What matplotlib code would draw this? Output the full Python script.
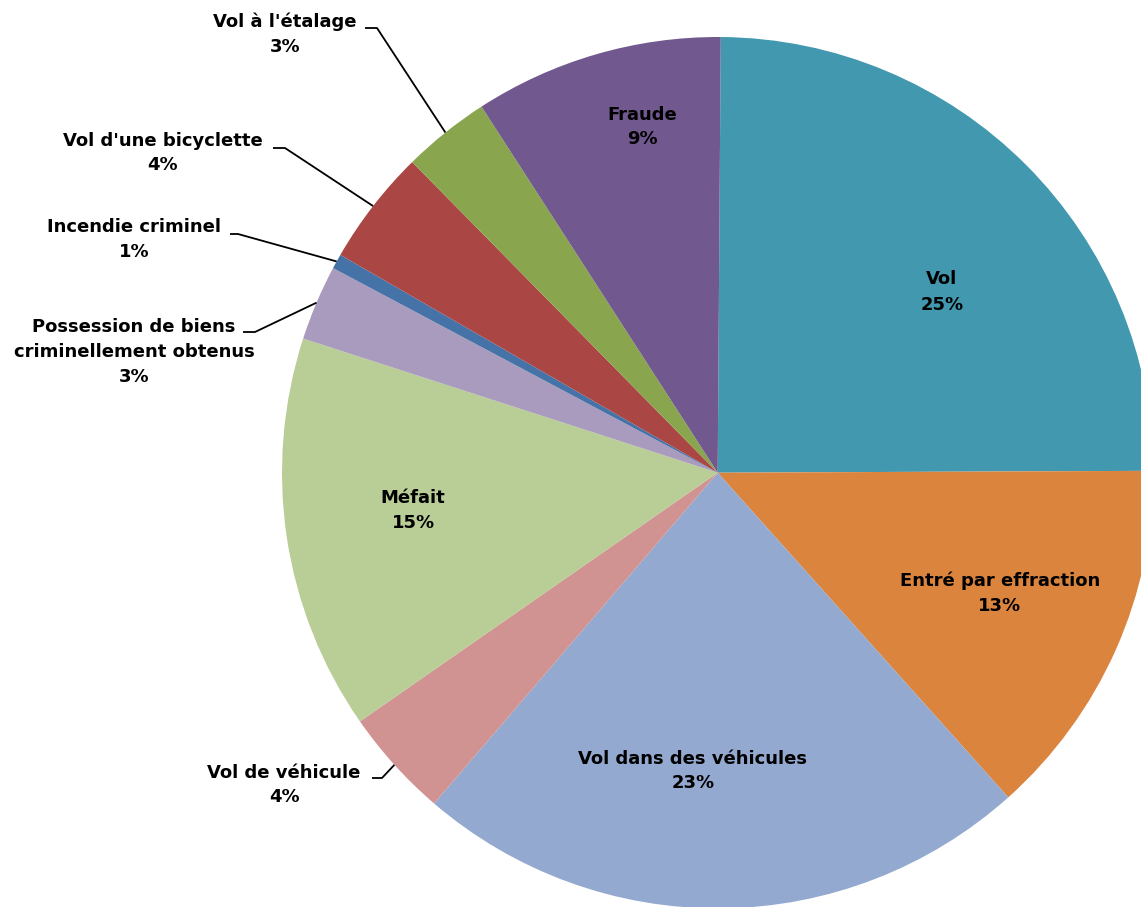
import numpy as np
import matplotlib
matplotlib.use("Agg")
import matplotlib.pyplot as plt

categories = ["Vol", "Entré par effraction", "Vol dans des véhicules", "Vol de véhicule",
              "Méfait", "Possession de biens\ncriminellement obtenus", "Incendie criminel",
              "Vol d'une bicyclette", "Vol à l'étalage", "Fraude"]
shares = [24.82, 13.45, 22.9, 4.05, 14.65, 2.8, 0.55, 4.3, 3.25, 9.23]
colors = ["#4198AF", "#DB843D", "#93A9CF", "#D19392", "#B9CD96",
          "#A99BBD", "#4572A7", "#AA4643", "#89A54E", "#71588F"]

# label placement in pixels (x, y) of the reference layout
W, H = 1141, 907
cx, cy, R = 717.7, 472.7, 435.7
inside_pos = {0: (942, 292), 1: (1000, 593), 2: (693, 771), 4: (413, 511), 9: (642, 127)}
outside_pos = {8: (285, 34), 7: (163, 153), 6: (134, 240), 5: (134, 352), 3: (284, 785)}
elbows = {8: [(365, 28), (377, 28)], 7: [(273, 148), (285, 148)],
          6: [(230, 234), (238, 234)], 5: [(243, 332), (255, 332)],
          3: [(372, 778), (382, 778)]}


def px(x, y):
    return (x - cx) / R, (cy - y) / R


fig = plt.figure(figsize=(W / 100, H / 100), dpi=100)
ax = fig.add_axes([0, 0, 1, 1])
wedges, _ = ax.pie(shares, colors=colors, startangle=89.6, counterclock=False,
                   radius=1, wedgeprops=dict(linewidth=0))
ax.set_xlim(-cx / R, (W - cx) / R)
ax.set_ylim((cy - H) / R, cy / R)
ax.set_aspect("equal")
ax.axis("off")

font = dict(fontsize=13, fontweight="bold", color="black", ha="center", va="center",
            linespacing=1.5)

for i, (name, v) in enumerate(zip(categories, shares)):
    label = f"{name}\n{v:.0f}%"
    if i in inside_pos:
        ax.text(*px(*inside_pos[i]), label, **font)
    else:
        ax.text(*px(*outside_pos[i]), label, **font)
        w = wedges[i]
        mid = np.deg2rad((w.theta1 + w.theta2) / 2)
        pts = [px(*p) for p in elbows[i]] + [(np.cos(mid), np.sin(mid))]
        xs, ys = zip(*pts)
        ax.plot(xs, ys, color="black", lw=1.3, solid_capstyle="butt")

fig.savefig("out.png", dpi=100)
